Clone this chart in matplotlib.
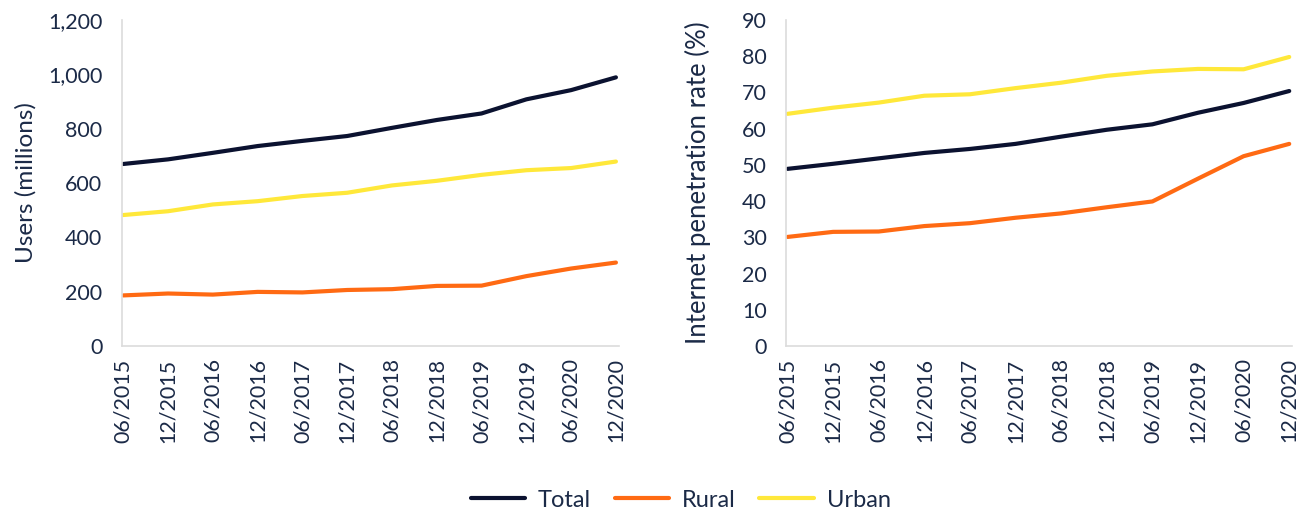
import matplotlib
matplotlib.use("Agg")
import matplotlib.pyplot as plt
from matplotlib.ticker import FuncFormatter

plt.rcParams["font.family"] = ["Lato", "DejaVu Sans"]

periods = ["06/2015", "12/2015", "06/2016", "12/2016", "06/2017", "12/2017",
           "06/2018", "12/2018", "06/2019", "12/2019", "06/2020", "12/2020"]

# users, millions
users_total = [670, 687, 711, 736, 755, 773, 803, 832, 856, 908, 942, 989]
users_rural = [186, 193, 189, 199, 197, 206, 209, 221, 222, 257, 285, 307]
users_urban = [482, 496, 521, 533, 552, 564, 591, 608, 630, 647, 655, 679]

# penetration rate, %
rate_total = [48.9, 50.3, 51.8, 53.3, 54.4, 55.8, 57.8, 59.7, 61.2, 64.4, 67.1, 70.4]
rate_rural = [30.1, 31.5, 31.6, 33.1, 33.9, 35.4, 36.6, 38.3, 39.9, 46.2, 52.4, 55.8]
rate_urban = [64.1, 65.8, 67.2, 69.1, 69.5, 71.2, 72.7, 74.6, 75.8, 76.5, 76.4, 79.8]

C_TOTAL, C_RURAL, C_URBAN = "#0b1230", "#ff6a13", "#ffe83a"
TXT = "#1b2a47"
FS = 15.5

fig = plt.figure(figsize=(13.07, 5.14), dpi=100)
ax1 = fig.add_axes([0.0933, 0.327, 0.380, 0.634])
ax2 = fig.add_axes([0.6015, 0.327, 0.387, 0.634])

x = list(range(len(periods)))


def style(ax, ymax, step, ylabel, fmt, lab_fs, lab_pad):
    ax.set_xlim(-0.03, len(periods) - 1 + 0.06)
    ax.set_ylim(0, ymax)
    ax.set_yticks(range(0, ymax + 1, step))
    ax.yaxis.set_major_formatter(FuncFormatter(fmt))
    ax.set_xticks(x)
    ax.set_xticklabels(periods, rotation=90)
    ax.tick_params(length=0, labelsize=FS, colors=TXT)
    ax.tick_params(axis="y", pad=14)
    ax.tick_params(axis="x", pad=9)
    for s in ("top", "right"):
        ax.spines[s].set_visible(False)
    for s in ("left", "bottom"):
        ax.spines[s].set_color("#dcdcdc")
        ax.spines[s].set_linewidth(1.2)
    ax.set_ylabel(ylabel, fontsize=lab_fs, color=TXT, labelpad=lab_pad)


for ax, (t, r, u) in [(ax1, (users_total, users_rural, users_urban)),
                      (ax2, (rate_total, rate_rural, rate_urban))]:
    ax.plot(x, t, color=C_TOTAL, lw=3, label="Total", solid_capstyle="round")
    ax.plot(x, r, color=C_RURAL, lw=3, label="Rural", solid_capstyle="round")
    ax.plot(x, u, color=C_URBAN, lw=3, label="Urban", solid_capstyle="round")

style(ax1, 1200, 200, "Users (millions)", lambda v, p: f"{int(v):,}", 17.5, 8)
style(ax2, 90, 10, "Internet penetration rate (%)", lambda v, p: f"{int(v)}", 18.5, 22)

handles, labels = ax1.get_legend_handles_labels()
fig.legend(handles, labels, loc="lower center", bbox_to_anchor=(0.5207, -0.035), ncol=3,
           frameon=False, fontsize=17, handlelength=2.3, columnspacing=1.0,
           handletextpad=0.55, labelcolor=TXT)

fig.savefig("out.png", dpi=100)
